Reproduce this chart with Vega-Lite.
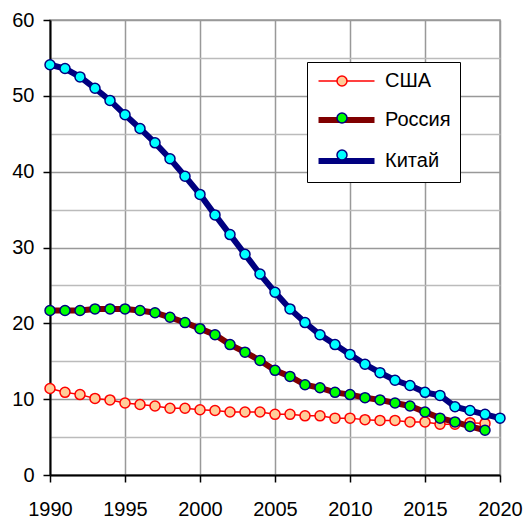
{
  "$schema": "https://vega.github.io/schema/vega-lite/v6.json",
  "width": 450,
  "height": 455,
  "autosize": {"type": "none"},
  "padding": {"left": 50, "top": 20, "right": 25, "bottom": 43},
  "background": "white",
  "config": {
    "font": "Liberation Sans",
    "view": {"stroke": "#999999", "strokeWidth": 1.5},
    "axis": {
      "labelFont": "Liberation Sans",
      "labelFontSize": 20,
      "labelColor": "black",
      "domainColor": "black",
      "domainWidth": 2,
      "tickColor": "black",
      "tickWidth": 1.5,
      "tickSize": 7,
      "gridWidth": 1.5,
      "title": null
    }
  },
  "data": {
    "values": [
      {"year": 1990, "country": "США", "value": 11.4},
      {"year": 1991, "country": "США", "value": 10.9},
      {"year": 1992, "country": "США", "value": 10.6},
      {"year": 1993, "country": "США", "value": 10.1},
      {"year": 1994, "country": "США", "value": 9.9},
      {"year": 1995, "country": "США", "value": 9.5},
      {"year": 1996, "country": "США", "value": 9.3},
      {"year": 1997, "country": "США", "value": 9.1},
      {"year": 1998, "country": "США", "value": 8.8},
      {"year": 1999, "country": "США", "value": 8.8},
      {"year": 2000, "country": "США", "value": 8.6},
      {"year": 2001, "country": "США", "value": 8.5},
      {"year": 2002, "country": "США", "value": 8.3},
      {"year": 2003, "country": "США", "value": 8.3},
      {"year": 2004, "country": "США", "value": 8.3},
      {"year": 2005, "country": "США", "value": 8.0},
      {"year": 2006, "country": "США", "value": 8.0},
      {"year": 2007, "country": "США", "value": 7.8},
      {"year": 2008, "country": "США", "value": 7.8},
      {"year": 2009, "country": "США", "value": 7.5},
      {"year": 2010, "country": "США", "value": 7.5},
      {"year": 2011, "country": "США", "value": 7.3},
      {"year": 2012, "country": "США", "value": 7.2},
      {"year": 2013, "country": "США", "value": 7.2},
      {"year": 2014, "country": "США", "value": 7.0},
      {"year": 2015, "country": "США", "value": 7.0},
      {"year": 2016, "country": "США", "value": 6.7},
      {"year": 2017, "country": "США", "value": 6.7},
      {"year": 2018, "country": "США", "value": 6.9},
      {"year": 2019, "country": "США", "value": 6.8},
      {"year": 1990, "country": "Россия", "value": 21.7},
      {"year": 1991, "country": "Россия", "value": 21.7},
      {"year": 1992, "country": "Россия", "value": 21.7},
      {"year": 1993, "country": "Россия", "value": 21.9},
      {"year": 1994, "country": "Россия", "value": 21.9},
      {"year": 1995, "country": "Россия", "value": 21.9},
      {"year": 1996, "country": "Россия", "value": 21.7},
      {"year": 1997, "country": "Россия", "value": 21.4},
      {"year": 1998, "country": "Россия", "value": 20.8},
      {"year": 1999, "country": "Россия", "value": 20.1},
      {"year": 2000, "country": "Россия", "value": 19.3},
      {"year": 2001, "country": "Россия", "value": 18.5},
      {"year": 2002, "country": "Россия", "value": 17.2},
      {"year": 2003, "country": "Россия", "value": 16.2},
      {"year": 2004, "country": "Россия", "value": 15.1},
      {"year": 2005, "country": "Россия", "value": 13.8},
      {"year": 2006, "country": "Россия", "value": 13.0},
      {"year": 2007, "country": "Россия", "value": 11.9},
      {"year": 2008, "country": "Россия", "value": 11.5},
      {"year": 2009, "country": "Россия", "value": 10.9},
      {"year": 2010, "country": "Россия", "value": 10.6},
      {"year": 2011, "country": "Россия", "value": 10.2},
      {"year": 2012, "country": "Россия", "value": 9.9},
      {"year": 2013, "country": "Россия", "value": 9.5},
      {"year": 2014, "country": "Россия", "value": 9.1},
      {"year": 2015, "country": "Россия", "value": 8.3},
      {"year": 2016, "country": "Россия", "value": 7.5},
      {"year": 2017, "country": "Россия", "value": 7.0},
      {"year": 2018, "country": "Россия", "value": 6.4},
      {"year": 2019, "country": "Россия", "value": 5.9},
      {"year": 1990, "country": "Китай", "value": 54.1},
      {"year": 1991, "country": "Китай", "value": 53.6},
      {"year": 1992, "country": "Китай", "value": 52.5},
      {"year": 1993, "country": "Китай", "value": 51.0},
      {"year": 1994, "country": "Китай", "value": 49.4},
      {"year": 1995, "country": "Китай", "value": 47.5},
      {"year": 1996, "country": "Китай", "value": 45.7},
      {"year": 1997, "country": "Китай", "value": 43.8},
      {"year": 1998, "country": "Китай", "value": 41.7},
      {"year": 1999, "country": "Китай", "value": 39.4},
      {"year": 2000, "country": "Китай", "value": 37.0},
      {"year": 2001, "country": "Китай", "value": 34.3},
      {"year": 2002, "country": "Китай", "value": 31.7},
      {"year": 2003, "country": "Китай", "value": 29.1},
      {"year": 2004, "country": "Китай", "value": 26.5},
      {"year": 2005, "country": "Китай", "value": 24.1},
      {"year": 2006, "country": "Китай", "value": 21.9},
      {"year": 2007, "country": "Китай", "value": 20.1},
      {"year": 2008, "country": "Китай", "value": 18.5},
      {"year": 2009, "country": "Китай", "value": 17.2},
      {"year": 2010, "country": "Китай", "value": 15.9},
      {"year": 2011, "country": "Китай", "value": 14.6},
      {"year": 2012, "country": "Китай", "value": 13.5},
      {"year": 2013, "country": "Китай", "value": 12.5},
      {"year": 2014, "country": "Китай", "value": 11.8},
      {"year": 2015, "country": "Китай", "value": 10.9},
      {"year": 2016, "country": "Китай", "value": 10.5},
      {"year": 2017, "country": "Китай", "value": 9.0},
      {"year": 2018, "country": "Китай", "value": 8.5},
      {"year": 2019, "country": "Китай", "value": 8.0},
      {"year": 2020, "country": "Китай", "value": 7.5}
    ]
  },
  "encoding": {
    "x": {
      "field": "year",
      "type": "quantitative",
      "scale": {"domain": [1990, 2020], "nice": false, "zero": false},
      "axis": {
        "values": [1990, 1995, 2000, 2005, 2010, 2015, 2020],
        "format": "d",
        "gridColor": "#999999",
        "labelPadding": 17,
        "labelFlush": false,
        "labelOverlap": false
      }
    },
    "y": {
      "field": "value",
      "type": "quantitative",
      "scale": {"domain": [0, 60], "nice": false},
      "axis": {
        "values": [0, 5, 10, 15, 20, 25, 30, 35, 40, 45, 50, 55, 60],
        "labelExpr": "datum.value % 10 === 0 ? datum.label : ''",
        "gridColor": {"condition": {"test": "datum.value % 10 === 0", "value": "#999999"}, "value": "#bbbbbb"},
        "tickOpacity": {"condition": {"test": "datum.value % 10 === 0", "value": 1}, "value": 0},
        "labelPadding": 9,
        "labelFlush": false,
        "labelOverlap": false
      }
    }
  },
  "layer": [
    {
      "transform": [{"filter": "datum.country === 'США'"}],
      "mark": {"type": "line", "strokeWidth": 1.5},
      "encoding": {
        "color": {
          "field": "country",
          "type": "nominal",
          "sort": ["США", "Россия", "Китай"],
          "scale": {"range": ["#ff0000", "#800000", "#000080"]},
          "legend": {
            "orient": "none",
            "legendX": 257,
            "legendY": 42,
            "title": null,
            "symbolType": "M-1.36,0H8.82",
            "symbolSize": 121,
            "symbolStrokeWidth": 6,
            "labelFont": "Liberation Sans",
            "labelFontSize": 20,
            "labelColor": "black",
            "labelOffset": 49,
            "rowPadding": 17,
            "padding": 9,
            "strokeColor": "black",
            "fillColor": "white",
            "zindex": 1,
            "encode": {"symbols": {"update": {"strokeWidth": {"signal": "datum.value === 'США' ? 1.5 : 6"}}}}
          }
        }
      }
    },
    {
      "transform": [{"filter": "datum.country === 'США'"}],
      "mark": {"type": "point", "filled": true, "shape": "circle", "size": 100, "strokeWidth": 1.5, "opacity": 1},
      "encoding": {
        "fill": {
          "field": "country",
          "type": "nominal",
          "scale": {"domain": ["США", "Россия", "Китай"], "range": ["#ffcc99", "#00ff00", "#00ffff"]},
          "legend": {
            "orient": "none",
            "legendX": 273,
            "legendY": 42,
            "title": null,
            "symbolType": "circle",
            "symbolSize": 100,
            "symbolStrokeWidth": 1.5,
            "labelExpr": "''",
            "labelFont": "Liberation Sans",
            "labelFontSize": 20,
            "labelOpacity": 0,
            "rowPadding": 17,
            "padding": 9,
            "zindex": 2
          }
        },
        "stroke": {
          "field": "country",
          "type": "nominal",
          "scale": {"domain": ["США", "Россия", "Китай"], "range": ["#ff0000", "#000080", "#000080"]}
        }
      }
    },
    {
      "transform": [{"filter": "datum.country === 'Россия'"}],
      "mark": {"type": "line", "strokeWidth": 6},
      "encoding": {"color": {"field": "country", "type": "nominal", "sort": ["США", "Россия", "Китай"]}}
    },
    {
      "transform": [{"filter": "datum.country === 'Россия'"}],
      "mark": {"type": "point", "filled": true, "shape": "circle", "size": 100, "strokeWidth": 1.5, "opacity": 1},
      "encoding": {
        "fill": {"field": "country", "type": "nominal"},
        "stroke": {"field": "country", "type": "nominal"}
      }
    },
    {
      "transform": [{"filter": "datum.country === 'Китай'"}],
      "mark": {"type": "line", "strokeWidth": 6},
      "encoding": {"color": {"field": "country", "type": "nominal", "sort": ["США", "Россия", "Китай"]}}
    },
    {
      "transform": [{"filter": "datum.country === 'Китай'"}],
      "mark": {"type": "point", "filled": true, "shape": "circle", "size": 100, "strokeWidth": 1.5, "opacity": 1},
      "encoding": {
        "fill": {"field": "country", "type": "nominal"},
        "stroke": {"field": "country", "type": "nominal"}
      }
    }
  ]
}
